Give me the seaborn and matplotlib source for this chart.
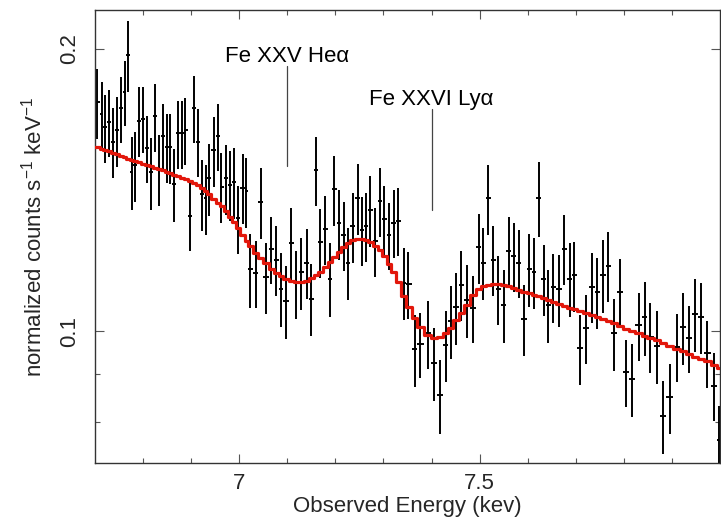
import numpy as np
import matplotlib
matplotlib.use("Agg")
import matplotlib.pyplot as plt
import seaborn as sns
from matplotlib.ticker import FixedLocator, FixedFormatter, NullFormatter

# spectrum bins (keV)
energy = [6.700, 6.705, 6.714, 6.721, 6.729, 6.738, 6.746, 6.754, 6.762, 6.769,
          6.776, 6.784, 6.791, 6.799, 6.808, 6.816, 6.825, 6.833, 6.841, 6.849,
          6.856, 6.865, 6.873, 6.881, 6.888, 6.897, 6.906, 6.914, 6.922, 6.930,
          6.937, 6.947, 6.955, 6.963, 6.972, 6.980, 6.989, 6.998, 7.007, 7.015,
          7.023, 7.035, 7.045, 7.055, 7.067, 7.077, 7.087, 7.097, 7.108, 7.118,
          7.129, 7.140, 7.150, 7.160, 7.169, 7.179, 7.189, 7.198, 7.207, 7.217,
          7.226, 7.236, 7.246, 7.255, 7.263, 7.273, 7.283, 7.293, 7.302, 7.311,
          7.321, 7.331, 7.342, 7.352, 7.365, 7.376, 7.392, 7.406, 7.418, 7.430,
          7.440, 7.451, 7.462, 7.474, 7.486, 7.498, 7.508, 7.518, 7.528, 7.539,
          7.550, 7.561, 7.571, 7.581, 7.593, 7.603, 7.613, 7.623, 7.633, 7.642,
          7.653, 7.666, 7.676, 7.687, 7.697, 7.709, 7.722, 7.734, 7.745, 7.757,
          7.768, 7.779, 7.791, 7.804, 7.817, 7.831, 7.843, 7.855, 7.869, 7.881,
          7.895, 7.910, 7.923, 7.936, 7.949, 7.961, 7.973, 7.988, 7.998]

counts = [0.1638, 0.1754, 0.1705, 0.1649, 0.1671, 0.1592, 0.1638, 0.1728, 0.1798, 0.1972,
          0.1478, 0.1503, 0.1677, 0.1685, 0.1568, 0.1478, 0.1695, 0.1489, 0.1615, 0.1571,
          0.1571, 0.1435, 0.1625, 0.1625, 0.1638, 0.1327, 0.1728, 0.1592, 0.1402, 0.1386,
          0.1455, 0.1560, 0.1615, 0.1426, 0.1455, 0.1432, 0.1443, 0.1319, 0.1422, 0.1410,
          0.1164, 0.1154, 0.1374, 0.1141, 0.1223, 0.1191, 0.1110, 0.1076, 0.1242, 0.1124,
          0.1155, 0.1183, 0.1083, 0.1485, 0.1245, 0.1284, 0.1137, 0.1416, 0.1303, 0.1266,
          0.1183, 0.1294, 0.1388, 0.1282, 0.1294, 0.1346, 0.1248, 0.1376, 0.1316, 0.1266,
          0.1305, 0.1311, 0.1126, 0.1122, 0.0956, 0.0969, 0.0994, 0.0925, 0.0854, 0.0966,
          0.1026, 0.1060, 0.1120, 0.1079, 0.1057, 0.1228, 0.1183, 0.1386, 0.1191, 0.1108,
          0.1067, 0.1218, 0.1202, 0.1183, 0.1031, 0.1165, 0.1156, 0.1388, 0.1137, 0.1067,
          0.1113, 0.1108, 0.1224, 0.1137, 0.1147, 0.0958, 0.1007, 0.1115, 0.1101, 0.1147,
          0.1174, 0.0994, 0.1101, 0.0904, 0.0889, 0.1014, 0.1034, 0.0986, 0.0964, 0.0812,
          0.0850, 0.0962, 0.1009, 0.0982, 0.1043, 0.1034, 0.0947, 0.0874, 0.0765]

count_err = [0.0148, 0.0151, 0.0140, 0.0139, 0.0138, 0.0137, 0.0141, 0.0140, 0.0144, 0.0172,
             0.0131, 0.0129, 0.0144, 0.0138, 0.0129, 0.0130, 0.0141, 0.0131, 0.0134, 0.0134,
             0.0135, 0.0129, 0.0136, 0.0135, 0.0136, 0.0110, 0.0142, 0.0132, 0.0122, 0.0119,
             0.0128, 0.0134, 0.0132, 0.0122, 0.0125, 0.0123, 0.0126, 0.0110, 0.0122, 0.0121,
             0.0105, 0.0095, 0.0120, 0.0099, 0.0101, 0.0102, 0.0100, 0.0096, 0.0110, 0.0093,
             0.0103, 0.0102, 0.0096, 0.0124, 0.0106, 0.0109, 0.0103, 0.0121, 0.0112, 0.0107,
             0.0104, 0.0111, 0.0121, 0.0108, 0.0110, 0.0116, 0.0106, 0.0116, 0.0112, 0.0104,
             0.0108, 0.0109, 0.0099, 0.0092, 0.0085, 0.0077, 0.0082, 0.0082, 0.0077, 0.0084,
             0.0092, 0.0093, 0.0096, 0.0097, 0.0087, 0.0106, 0.0104, 0.0119, 0.0102, 0.0094,
             0.0095, 0.0105, 0.0101, 0.0099, 0.0090, 0.0103, 0.0100, 0.0128, 0.0099, 0.0095,
             0.0094, 0.0098, 0.0105, 0.0103, 0.0099, 0.0082, 0.0085, 0.0095, 0.0097, 0.0103,
             0.0100, 0.0088, 0.0092, 0.0075, 0.0080, 0.0085, 0.0093, 0.0084, 0.0086, 0.0073,
             0.0073, 0.0080, 0.0089, 0.0081, 0.0094, 0.0090, 0.0078, 0.0073, 0.0066]

# folded model, one value per bin
model = [0.1573, 0.1570, 0.1564, 0.1560, 0.1555, 0.1549, 0.1544, 0.1538, 0.1533, 0.1528,
         0.1523, 0.1518, 0.1514, 0.1509, 0.1504, 0.1499, 0.1494, 0.1489, 0.1484, 0.1479,
         0.1474, 0.1469, 0.1463, 0.1458, 0.1453, 0.1447, 0.1437, 0.1430, 0.1420, 0.1411,
         0.1400, 0.1384, 0.1371, 0.1358, 0.1344, 0.1325, 0.1307, 0.1287, 0.1266, 0.1249,
         0.1232, 0.1211, 0.1197, 0.1183, 0.1166, 0.1154, 0.1145, 0.1137, 0.1131, 0.1127,
         0.1127, 0.1132, 0.1139, 0.1148, 0.1156, 0.1170, 0.1185, 0.1200, 0.1213, 0.1229,
         0.1241, 0.1251, 0.1254, 0.1255, 0.1251, 0.1244, 0.1232, 0.1219, 0.1203, 0.1180,
         0.1156, 0.1128, 0.1090, 0.1060, 0.1033, 0.1009, 0.0990, 0.0984, 0.0986, 0.0995,
         0.1007, 0.1027, 0.1044, 0.1067, 0.1092, 0.1108, 0.1116, 0.1120, 0.1122, 0.1123,
         0.1120, 0.1116, 0.1111, 0.1107, 0.1101, 0.1097, 0.1093, 0.1089, 0.1085, 0.1080,
         0.1074, 0.1068, 0.1063, 0.1059, 0.1055, 0.1050, 0.1046, 0.1040, 0.1035, 0.1030,
         0.1025, 0.1019, 0.1013, 0.1006, 0.1000, 0.0995, 0.0989, 0.0983, 0.0977, 0.0971,
         0.0964, 0.0957, 0.0951, 0.0945, 0.0939, 0.0934, 0.0928, 0.0920, 0.0914]

# line markers
line_energy = [7.1, 7.4]
line_labels = ["Fe XXV He\u03b1", "Fe XXVI Ly\u03b1"]
line_top = [0.1918, 0.1725]
line_bottom = [0.1500, 0.1346]
label_base = [0.1937, 0.1743]

sns.set_style("ticks")
plt.rcParams["font.family"] = ["Liberation Sans", "DejaVu Sans"]
plt.rcParams["mathtext.fontset"] = "custom"
plt.rcParams["mathtext.rm"] = "Liberation Sans"
plt.rcParams["mathtext.default"] = "regular"

e = np.array(energy)
mid = (e[1:] + e[:-1]) / 2
edges = np.concatenate([[e[0] - (e[1] - e[0]) / 2], mid, [e[-1] + (e[-1] - e[-2]) / 2]])
x_lo = e - edges[:-1]
x_hi = edges[1:] - e

fig = plt.figure(figsize=(7.21, 5.22), dpi=100)
ax = fig.add_axes([95 / 721, 59 / 522, 625 / 721, 453 / 522])
ax.set_yscale("log")

ax.errorbar(e, counts, yerr=count_err, xerr=[x_lo, x_hi], fmt="none",
            ecolor="black", elinewidth=1.4, capsize=0, zorder=2)

sns.lineplot(x=edges, y=np.append(model, model[-1]), ax=ax, drawstyle="steps-post",
             color="#e2170b", linewidth=2.3, estimator=None, sort=False, zorder=3)

for xe, lab, yt, yb, yl in zip(line_energy, line_labels, line_top, line_bottom, label_base):
    ax.plot([xe, xe], [yb, yt], color="#444444", linewidth=0.9, zorder=1)
    ax.text(xe, yl, lab, ha="center", va="baseline", fontsize=16, color="black")

ax.set_xlim(6.7, 8.0)
ax.set_ylim(0.0723, 0.2201)

ax.xaxis.set_major_locator(FixedLocator([7.0, 7.5]))
ax.xaxis.set_major_formatter(FixedFormatter(["7", "7.5"]))
ax.xaxis.set_minor_locator(FixedLocator([6.8, 6.9, 7.1, 7.2, 7.3, 7.4, 7.6, 7.7, 7.8, 7.9]))
ax.yaxis.set_major_locator(FixedLocator([0.1, 0.2]))
ax.yaxis.set_major_formatter(FixedFormatter(["0.1", "0.2"]))
ax.yaxis.set_minor_locator(FixedLocator([0.08, 0.09]))
ax.yaxis.set_minor_formatter(NullFormatter())

ax.tick_params(which="both", direction="in", top=True, right=True,
               color="#555555", width=0.8, labelsize=16)
ax.tick_params(which="major", length=6.7)
ax.tick_params(which="minor", length=3.6)
ax.tick_params(axis="x", pad=7)
ax.tick_params(axis="y", pad=11)
for lab in ax.get_yticklabels():
    lab.set_rotation(90)
    lab.set_va("center")

for sp in ax.spines.values():
    sp.set_color("#333333")
    sp.set_linewidth(1.0)

ax.set_xlabel("Observed Energy (kev)", fontsize=16)
ax.set_ylabel("normalized counts s$^{-1}$ keV$^{-1}$", fontsize=16)
ax.xaxis.set_label_coords(0.5, -0.072)
ax.yaxis.set_label_coords(-0.078, 0.5)

fig.savefig("out.png", dpi=100)
